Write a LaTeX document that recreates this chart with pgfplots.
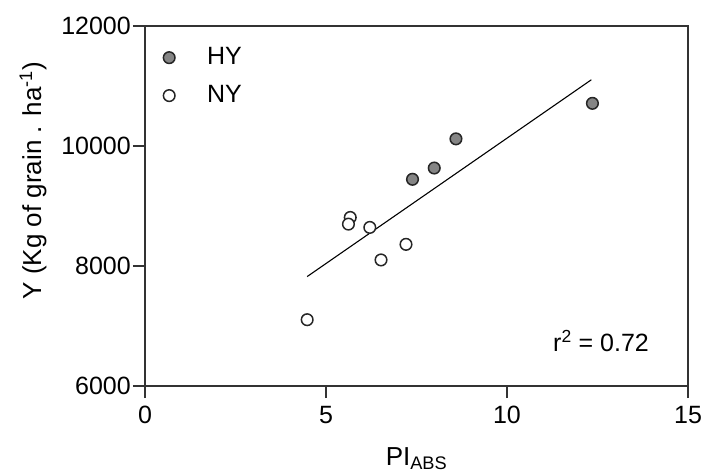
\documentclass[border=0pt]{standalone}
\usepackage{fontspec}
\setmainfont{Liberation Sans}
\usepackage{pgfplots}
\pgfplotsset{compat=1.18}
\definecolor{hyfill}{HTML}{858585}
\begin{document}
\fontsize{25bp}{30bp}\selectfont
\begin{tikzpicture}
\begin{axis}[
  name=main,
  scale only axis, width=543bp, height=360bp,
  xmin=0, xmax=15, ymin=6000, ymax=12000,
  xtick={0,5,10,15}, ytick={6000,8000,10000,12000},
  tick pos=left, tick align=outside, major tick length=12bp,
  axis line style={black!80, line width=1.6bp},
  tick style={black!80, line width=1.6bp},
  /pgf/number format/assume math mode=true,
  /pgf/number format/set thousands separator={},
  scaled ticks=false,
  tick label style={font=\fontsize{25bp}{30bp}\selectfont},
  yticklabel style={inner sep=2bp},
  label style={font=\fontsize{26bp}{31bp}\selectfont},
  xlabel={PI\textsubscript{ABS}},
  ylabel={Y (Kg of grain . ha\textsuperscript{-1})},
  xlabel style={at={(axis description cs:0.5,0)}, anchor=base, yshift=-79bp},
  ylabel style={at={(axis description cs:-0.206,0.57)}, anchor=center},
  legend style={at={(axis description cs:0,1)}, anchor=north west, draw=none, fill=none,
    font=\fontsize{25bp}{30bp}\selectfont, row sep=13bp, inner xsep=18bp, inner ysep=19bp},
  legend cell align=left,
  legend image code/.code={\path[draw=none,fill=none] (-6bp,-6bp) rectangle (36bp,6bp); \draw[#1] plot coordinates {(0bp,0bp)};},
]
\addplot[only marks, mark=*, mark size=5.8bp, mark options={fill=hyfill, draw=black!85, line width=1.5bp}]
  coordinates {(7.39,9445) (7.99,9633) (8.59,10119) (12.36,10711)};
\addlegendentry{HY}
\addplot[only marks, mark=*, mark size=5.8bp, mark options={fill=white, draw=black!85, line width=1.5bp}]
  coordinates {(4.48,7105) (5.67,8809) (5.62,8698) (6.21,8643) (6.52,8101) (7.21,8361)};
\addlegendentry{NY}
\addplot[black, line width=1.1bp, forget plot] coordinates {(4.48,7824) (12.33,11104)};
\node[anchor=base west, inner sep=0pt] at (axis cs:11.27,6567) {r\textsuperscript{2} = 0.72};
\coordinate (bl) at (rel axis cs:0,0);
\end{axis}
\pgfresetboundingbox
\path (bl) ++(-145bp,-90bp) rectangle ++(706bp,476bp);
\end{tikzpicture}
\end{document}
